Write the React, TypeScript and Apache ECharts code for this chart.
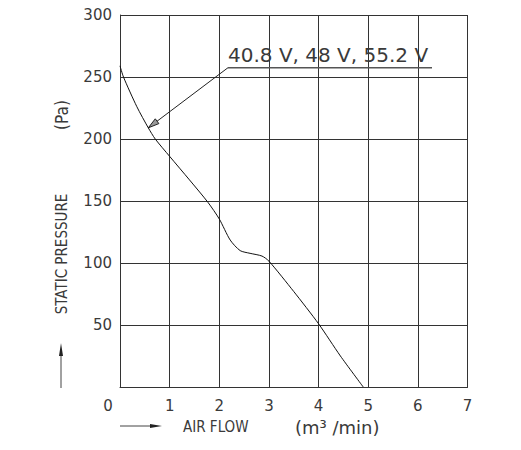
import React, { useEffect, useRef } from "react";
import * as echarts from "echarts";

const airFlow = [0, 0.07, 0.34, 0.57, 0.71, 1, 1.4, 1.77, 2, 2.22, 2.42, 2.62, 2.86, 3, 3.5, 4, 4.44, 4.9];
const staticPressure = [259, 250, 226, 209, 200, 186, 167, 149, 135.5, 118.5, 110, 107.8, 105.6, 101.5, 77, 51, 25, 0];
const xTicks = [0, 1, 2, 3, 4, 5, 6, 7];
const yTicks = [0, 50, 100, 150, 200, 250, 300];
const annotationText = "40.8 V, 48 V, 55.2 V";

const TEXT = "#3a3a3a";
const LINE = "#333";
const NUM_FONT = "'DejaVu Sans', sans-serif";
const NARROW_FONT = "'Liberation Sans Narrow', 'DejaVu Sans Condensed', sans-serif";

export default function App() {
  const ref = useRef<HTMLDivElement>(null);
  useEffect(() => {
    if (!ref.current) return;
    const chart = echarts.init(ref.current, undefined, { renderer: "svg" });
    const data = airFlow.map((x, i) => [x, staticPressure[i]]);
    chart.setOption({
      animation: false,
      grid: { left: 120, top: 15, width: 347.5, height: 372 },
      xAxis: {
        type: "value",
        min: xTicks[0],
        max: xTicks[xTicks.length - 1],
        interval: 1,
        axisLine: { lineStyle: { color: LINE, width: 1 } },
        axisTick: { show: false },
        splitLine: { lineStyle: { color: LINE, width: 1 } },
        axisLabel: {
          margin: 11,
          color: TEXT,
          fontFamily: NUM_FONT,
          fontSize: 15,
          formatter: (v: number) => (v === 0 ? "{z|0}" : String(v)),
          rich: { z: { padding: [0, 24, 0, 0], color: TEXT, fontFamily: NUM_FONT, fontSize: 15 } },
        },
      },
      yAxis: {
        type: "value",
        min: yTicks[0],
        max: yTicks[yTicks.length - 1],
        interval: 50,
        axisLine: { show: true, lineStyle: { color: LINE, width: 1 } },
        axisTick: { show: false },
        splitLine: { lineStyle: { color: LINE, width: 1 } },
        axisLabel: {
          margin: 8,
          color: TEXT,
          fontFamily: NUM_FONT,
          fontSize: 15,
          formatter: (v: number) => (v === 0 ? "" : String(v)),
        },
      },
      series: [
        {
          type: "line",
          data,
          smooth: 0.25,
          symbol: "none",
          lineStyle: { color: "#111", width: 1 },
        },
      ],
    });

    const tip = chart.convertToPixel({ gridIndex: 0 }, [airFlow[3], staticPressure[3]]) as number[];
    const anchor = [228, 67.7];
    const dx = tip[0] - anchor[0];
    const dy = tip[1] - anchor[1];
    const len = Math.hypot(dx, dy);
    const ux = dx / len, uy = dy / len;
    const bx = tip[0] - ux * 11, by = tip[1] - uy * 11;
    const px = -uy * 3, py = ux * 3;

    chart.setOption({
      graphic: [
        {
          type: "text",
          x: 228,
          y: 55,
          style: {
            text: annotationText,
            fill: TEXT,
            font: `20px ${NUM_FONT}`,
            textAlign: "left",
            textVerticalAlign: "middle",
          },
        },
        {
          type: "line",
          shape: { x1: 228, y1: 67.7, x2: 432, y2: 67.7 },
          style: { stroke: "#555", lineWidth: 1.5 },
        },
        {
          type: "line",
          shape: { x1: anchor[0], y1: anchor[1], x2: tip[0], y2: tip[1] },
          style: { stroke: "#222", lineWidth: 1 },
        },
        {
          type: "polygon",
          shape: { points: [[bx + px, by + py], [tip[0], tip[1]], [bx - px, by - py]] },
          style: { stroke: "#222", fill: "#999", lineWidth: 1 },
        },
        {
          type: "text",
          x: 62,
          y: 115,
          rotation: Math.PI / 2,
          style: {
            text: "(Pa)",
            fill: TEXT,
            font: `17px ${NARROW_FONT}`,
            textAlign: "center",
            textVerticalAlign: "middle",
          },
        },
        {
          type: "text",
          x: 62,
          y: 254,
          rotation: Math.PI / 2,
          style: {
            text: "STATIC PRESSURE",
            fill: TEXT,
            font: `15px ${NARROW_FONT}`,
            textAlign: "center",
            textVerticalAlign: "middle",
          },
        },
        {
          type: "line",
          shape: { x1: 61, y1: 388, x2: 61, y2: 352 },
          style: { stroke: "#444", lineWidth: 1 },
        },
        {
          type: "polygon",
          shape: { points: [[61, 343], [63, 356], [59, 356]] },
          style: { fill: "#222" },
        },
        {
          type: "line",
          shape: { x1: 120, y1: 426, x2: 152, y2: 426 },
          style: { stroke: "#444", lineWidth: 1 },
        },
        {
          type: "polygon",
          shape: { points: [[162, 426], [150, 424], [150, 428]] },
          style: { fill: "#222" },
        },
        {
          type: "text",
          x: 183,
          y: 427,
          style: {
            text: "AIR FLOW",
            fill: TEXT,
            font: `15px ${NARROW_FONT}`,
            textAlign: "left",
            textVerticalAlign: "middle",
          },
        },
        {
          type: "text",
          x: 295,
          y: 427,
          style: {
            text: "(m³ /min)",
            fill: TEXT,
            font: `18px ${NUM_FONT}`,
            textAlign: "left",
            textVerticalAlign: "middle",
          },
        },
      ],
    });
    return () => chart.dispose();
  }, []);
  return <div ref={ref} style={{ position: "absolute", left: 0, top: 0, width: 521, height: 450 }} />;
}
